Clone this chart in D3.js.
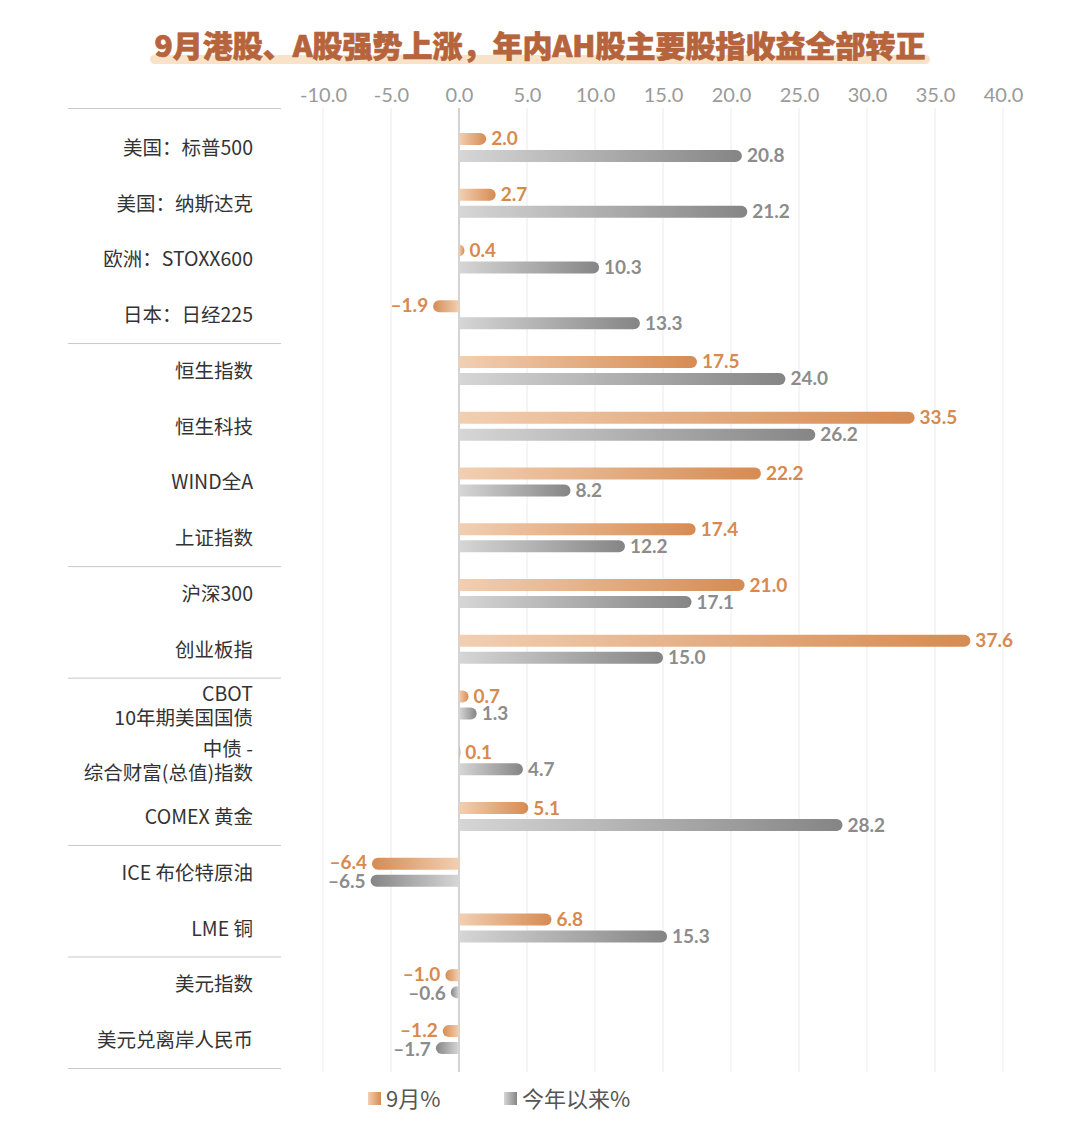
<!DOCTYPE html>
<html><head><meta charset="utf-8">
<script src="https://cdn.jsdelivr.net/npm/d3@7"></script>
<style>
html,body{margin:0;padding:0;background:#fff;}
svg{display:block;}
</style></head>
<body>
<svg id="chart" width="1080" height="1134"></svg>
<script>
const categories = [
  ["美国：标普500"], ["美国：纳斯达克"], ["欧洲：STOXX600"], ["日本：日经225"],
  ["恒生指数"], ["恒生科技"], ["WIND全A"], ["上证指数"],
  ["沪深300"], ["创业板指"],
  ["CBOT", "10年期美国国债"], ["中债 -", "综合财富(总值)指数"], ["COMEX 黄金"],
  ["ICE 布伦特原油"], ["LME 铜"],
  ["美元指数"], ["美元兑离岸人民币"]
];
const septValues = [2.0, 2.7, 0.4, -1.9, 17.5, 33.5, 22.2, 17.4, 21.0, 37.6, 0.7, 0.1, 5.1, -6.4, 6.8, -1.0, -1.2];
const ytdValues  = [20.8, 21.2, 10.3, 13.3, 24.0, 26.2, 8.2, 12.2, 17.1, 15.0, 1.3, 4.7, 28.2, -6.5, 15.3, -0.6, -1.7];
const tickValues = [-10, -5, 0, 5, 10, 15, 20, 25, 30, 35, 40];
const groupBreaks = [4, 8, 10, 13, 15, 17];
const seriesNames = ["9月%", "今年以来%"];
const title = "9月港股、A股强势上涨，年内AH股主要股指收益全部转正";

const svg = d3.select("#chart");
const defs = svg.append("defs");
function grad(id, c0, c1, reverse) {
  const g = defs.append("linearGradient").attr("id", id)
    .attr("x1", reverse ? 1 : 0).attr("x2", reverse ? 0 : 1).attr("y1", 0).attr("y2", 0);
  g.append("stop").attr("offset", "0%").attr("stop-color", c0);
  g.append("stop").attr("offset", "100%").attr("stop-color", c1);
}
grad("oPos", "#f2cfb2", "#d68b52", false);
grad("oNeg", "#f2cfb2", "#d68b52", true);
grad("gPos", "#d6d6d6", "#858585", false);
grad("gNeg", "#d6d6d6", "#858585", true);

const x = d3.scaleLinear().domain([-10, 40]).range([323, 1003]);
const y = d3.scaleBand().domain(d3.range(categories.length)).range([120, 1068]);

// Title
svg.append("rect").attr("x", 150).attr("y", 55).attr("width", 780).attr("height", 9)
  .attr("rx", 4.5).attr("fill", "#f8e2c8");
svg.append("text").attr("x", 540).attr("y", 57).attr("text-anchor", "middle")
  .attr("font-family", "'Noto Sans CJK SC', sans-serif").attr("font-weight", 900)
  .attr("font-size", 30).attr("fill", "#b5643c")
  .attr("stroke", "#b5643c").attr("stroke-width", 0.7)
  .text(title);

// gridlines
svg.append("g").selectAll("line").data(tickValues).join("line")
  .attr("x1", d => x(d)).attr("x2", d => x(d)).attr("y1", 108).attr("y2", 1072)
  .attr("stroke", d => d === 0 ? "#c4c4c4" : "#ebebeb").attr("stroke-width", d => d === 0 ? 1.5 : 1);

// top axis
const axis = d3.axisTop(x).tickValues(tickValues).tickFormat(d3.format(".1f")).tickSize(0).tickPadding(0);
const ag = svg.append("g").attr("transform", "translate(0,102)").call(axis);
ag.select(".domain").remove();
ag.selectAll("text").attr("font-family", "Lato, sans-serif").attr("font-size", 20)
  .attr("fill", "#9a9a9a").attr("dy", 0).text(d => d3.format(".1f")(d).replace("−", "-"));

// left separators
const seps = [0].concat(groupBreaks);
svg.append("g").selectAll("line").data(seps).join("line")
  .attr("x1", 68).attr("x2", 281)
  .attr("y1", (d, i) => i === 0 ? 108.5 : y(0) + d * y.step() + 0.5)
  .attr("y2", (d, i) => i === 0 ? 108.5 : y(0) + d * y.step() + 0.5)
  .attr("stroke", "#c8c8c8").attr("stroke-width", 1);

// category labels
const cg = svg.append("g");
categories.forEach((lines, i) => {
  const cy = y(i) + y.bandwidth() / 2;
  const t = cg.append("text").attr("x", 253).attr("text-anchor", "end")
    .attr("font-family", "'Noto Sans CJK SC', sans-serif").attr("font-size", 19.5).attr("fill", "#333");
  if (lines.length === 1) {
    t.append("tspan").attr("x", 253).attr("y", cy + 7).text(lines[0]);
  } else {
    t.append("tspan").attr("x", 253).attr("y", cy - 5).text(lines[0]);
    t.append("tspan").attr("x", 253).attr("y", cy + 19).text(lines[1]);
  }
});

// bars
function barPath(v, cy, h) {
  const x0 = x(0), x1 = x(v);
  const w = Math.abs(x1 - x0);
  const r = h / 2;
  const rx = Math.min(r, w);
  const top = cy - r, bot = cy + r;
  if (v >= 0) {
    return `M${x0},${top}L${x1 - rx},${top}A${rx},${r} 0 0 1 ${x1 - rx},${bot}L${x0},${bot}Z`;
  } else {
    return `M${x0},${top}L${x1 + rx},${top}A${rx},${r} 0 0 0 ${x1 + rx},${bot}L${x0},${bot}Z`;
  }
}
const series = [
  {vals: septValues, off: -9, pos: "url(#oPos)", neg: "url(#oNeg)", color: "#d8894f", lab: -1},
  {vals: ytdValues, off: 8, pos: "url(#gPos)", neg: "url(#gNeg)", color: "#8c8c8c", lab: 1}
];
const bg = svg.append("g");
series.forEach(s => {
  s.vals.forEach((v, i) => {
    const cy = y(i) + y.bandwidth() / 2 + s.off;
    bg.append("path").attr("d", barPath(v, cy, 12)).attr("fill", v >= 0 ? s.pos : s.neg);
    bg.append("text")
      .attr("x", v >= 0 ? x(v) + 5 : x(v) - 5)
      .attr("y", cy + 6.5 + (v < 0 ? s.lab : 0))
      .attr("text-anchor", v >= 0 ? "start" : "end")
      .attr("font-family", "Lato, sans-serif").attr("font-weight", 700).attr("font-size", 19)
      .attr("fill", s.color)
      .text(d3.format(".1f")(v).replace("-", "–").replace("−", "–"));
  });
});

// legend
const lg = svg.append("g");
const legendItems = [
  {name: seriesNames[0], x: 368, fill: "url(#oPos)"},
  {name: seriesNames[1], x: 504, fill: "url(#gPos)"}
];
legendItems.forEach(it => {
  lg.append("rect").attr("x", it.x).attr("y", 1092).attr("width", 13).attr("height", 13).attr("fill", it.fill);
  lg.append("text").attr("x", it.x + 18).attr("y", 1107)
    .attr("font-family", "'Noto Sans CJK SC', sans-serif").attr("font-size", 22).attr("fill", "#555").text(it.name);
});
</script>
</body></html>
